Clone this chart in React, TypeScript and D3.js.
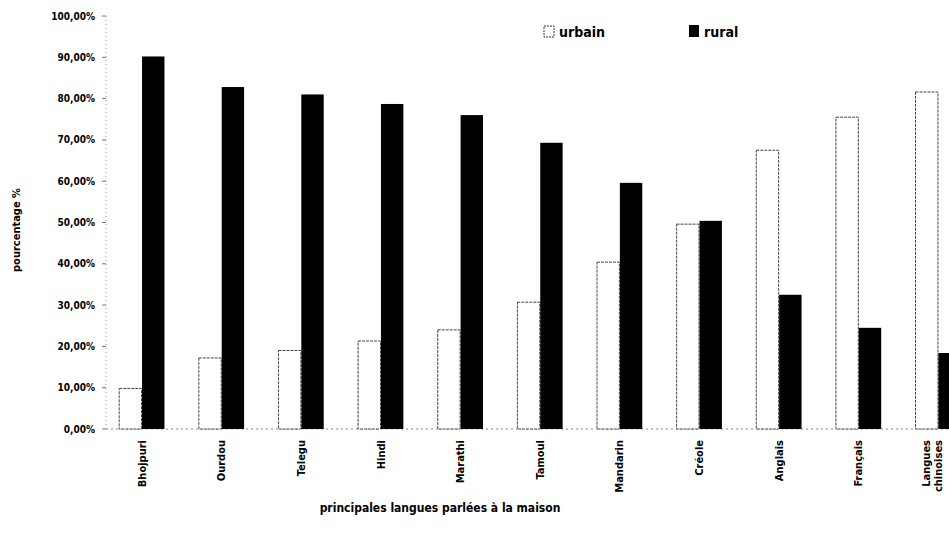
import React, { useEffect, useRef } from "react";
import * as d3 from "d3";

const categories = ["Bhojpuri", "Ourdou", "Telegu", "Hindi", "Marathi", "Tamoul", "Mandarin", "Créole", "Anglais", "Français", "Langues chinoises"];
const urbain = [9.8, 17.2, 19.0, 21.3, 24.0, 30.7, 40.4, 49.6, 67.5, 75.5, 81.6];
const rural = [90.2, 82.8, 81.0, 78.7, 76.0, 69.3, 59.6, 50.4, 32.5, 24.5, 18.4];
const yTicks = [0, 10, 20, 30, 40, 50, 60, 70, 80, 90, 100];
const seriesNames = ["urbain", "rural"];

const W = 949;
const H = 534;
const FONT = "'DejaVu Sans Condensed', 'Liberation Sans Narrow', sans-serif";

export default function App() {
  const ref = useRef<SVGSVGElement>(null);
  useEffect(() => {
    const svg = d3.select(ref.current);
    svg.selectAll("*").remove();
    const x = d3.scaleBand<string>().domain(categories).range([102, 978]).paddingInner(0.42).paddingOuter(0.21);
    const y = d3.scaleLinear().domain([0, 100]).range([429, 16]);
    const sub = d3.scaleBand<string>().domain(seriesNames).range([0, x.bandwidth()]).padding(0.02);

    const g = svg.append("g");
    g.append("line").attr("x1", 106).attr("x2", 106).attr("y1", y(100)).attr("y2", y(0))
      .attr("stroke", "#999").attr("stroke-dasharray", "1,3");
    g.append("line").attr("x1", 106).attr("x2", 978).attr("y1", y(0)).attr("y2", y(0))
      .attr("stroke", "#888").attr("stroke-dasharray", "2,3");
    yTicks.forEach((t) => {
      g.append("line").attr("x1", 102).attr("x2", 106).attr("y1", y(t)).attr("y2", y(t)).attr("stroke", "#777");
      g.append("text").attr("x", 95).attr("y", y(t)).attr("dy", "0.35em").attr("text-anchor", "end")
        .attr("font-family", FONT).attr("font-size", 10).attr("font-weight", "bold")
        .text(d3.format(".2f")(t).replace(".", ",") + "%");
    });

    const bars = svg.append("g");
    categories.forEach((c, i) => {
      const x0 = x(c)!;
      bars.append("rect").attr("x", x0 + sub("urbain")!).attr("y", y(urbain[i]))
        .attr("width", sub.bandwidth()).attr("height", y(0) - y(urbain[i]))
        .attr("fill", "#fff").attr("stroke", "#444").attr("stroke-width", 1).attr("stroke-dasharray", "3,1");
      bars.append("rect").attr("x", x0 + sub("rural")!).attr("y", y(rural[i]))
        .attr("width", sub.bandwidth()).attr("height", y(0) - y(rural[i]))
        .attr("fill", "#000");
      const words = c.split(" ");
      const t = svg.append("text")
        .attr("transform", `translate(${x0 + x.bandwidth() / 2},440) rotate(-90)`)
        .attr("text-anchor", "end")
        .attr("font-family", FONT).attr("font-size", 11).attr("font-weight", "bold");
      words.forEach((w, k) => {
        t.append("tspan").attr("x", 0).attr("dy", k === 0 ? `${0.35 - (words.length - 1) * 1.1}em` : "1.1em").text(w);
      });
    });

    svg.append("text").attr("x", 440).attr("y", 512).attr("text-anchor", "middle")
      .attr("font-family", FONT).attr("font-size", 12).attr("font-weight", "bold")
      .text("principales langues parlées à la maison");

    svg.append("text").attr("transform", `translate(20,230) rotate(-90)`).attr("text-anchor", "middle")
      .attr("font-family", FONT).attr("font-size", 11).attr("font-weight", "bold")
      .text("pourcentage %");

    const leg = svg.append("g");
    leg.append("rect").attr("x", 544).attr("y", 26).attr("width", 10).attr("height", 11)
      .attr("fill", "#fff").attr("stroke", "#333").attr("stroke-dasharray", "2,1");
    leg.append("text").attr("x", 559).attr("y", 32).attr("dy", "0.35em")
      .attr("font-family", FONT).attr("font-size", 14).attr("font-weight", "bold").text("urbain");
    leg.append("rect").attr("x", 689).attr("y", 25).attr("width", 10).attr("height", 12).attr("fill", "#000");
    leg.append("text").attr("x", 704).attr("y", 32).attr("dy", "0.35em")
      .attr("font-family", FONT).attr("font-size", 14).attr("font-weight", "bold").text("rural");
  }, []);
  return (
    <svg ref={ref} width={W} height={H} style={{ position: "absolute", left: 0, top: 0, background: "#fff" }} />
  );
}
